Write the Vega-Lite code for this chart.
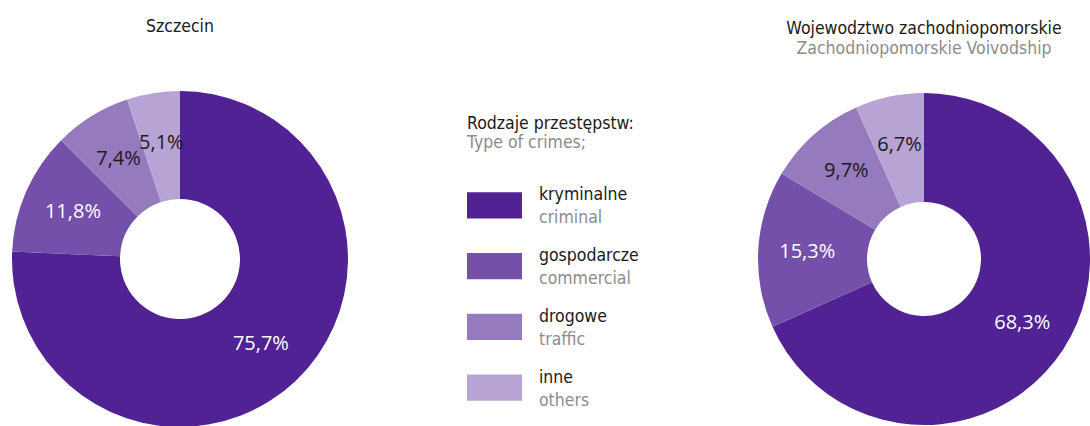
{
  "$schema": "https://vega.github.io/schema/vega-lite/v6.json",
  "background": "white",
  "padding": {"left": 0, "top": 17, "right": 0, "bottom": 0},
  "config": {
    "view": {"stroke": null},
    "locale": {"number": {"decimal": ",", "thousands": " ", "grouping": [3], "currency": ["", "%"]}},
    "title": {
      "font": "DejaVu Sans Condensed",
      "fontSize": 17.5,
      "fontWeight": "normal",
      "color": "#1a1a1a",
      "subtitleFont": "DejaVu Sans Condensed",
      "subtitleFontSize": 17.5,
      "subtitleColor": "#8c8c8c",
      "subtitlePadding": 2.5,
      "frame": "group"
    }
  },
  "datasets": {
    "pie": [
      {"region": "Szczecin", "category": "kryminalne", "k": 1, "value": 75.7},
      {"region": "Szczecin", "category": "gospodarcze", "k": 2, "value": 11.8},
      {"region": "Szczecin", "category": "drogowe", "k": 3, "value": 7.4},
      {"region": "Szczecin", "category": "inne", "k": 4, "value": 5.1},
      {"region": "Województwo zachodniopomorskie", "category": "kryminalne", "k": 1, "value": 68.3},
      {"region": "Województwo zachodniopomorskie", "category": "gospodarcze", "k": 2, "value": 15.3},
      {"region": "Województwo zachodniopomorskie", "category": "drogowe", "k": 3, "value": 9.7},
      {"region": "Województwo zachodniopomorskie", "category": "inne", "k": 4, "value": 6.7}
    ],
    "types": [
      {"category": "kryminalne", "en": "criminal"},
      {"category": "gospodarcze", "en": "commercial"},
      {"category": "drogowe", "en": "traffic"},
      {"category": "inne", "en": "others"}
    ]
  },
  "bounds": "flush",
  "spacing": 107,
  "hconcat": [
    {
      "width": 360,
      "height": 168,
      "title": {"text": "Szczecin", "offset": 56},
      "data": {"name": "pie"},
      "transform": [{"filter": "datum.region == 'Szczecin'"}],
      "encoding": {
        "theta": {"field": "value", "type": "quantitative", "stack": true},
        "order": {"field": "k", "type": "quantitative"},
        "detail": {"field": "category", "type": "nominal"},
        "color": {
          "field": "category", "type": "nominal", "legend": null,
          "scale": {"domain": ["kryminalne", "gospodarcze", "drogowe", "inne"], "range": ["#512293", "#7450ab", "#957bbd", "#b8a4d4"]}
        }
      },
      "layer": [
        {"mark": {"type": "arc", "innerRadius": 60, "outerRadius": 168}},
        {
          "mark": {"type": "text", "radius": 117, "font": "Open Sans", "fontSize": 20, "baseline": "middle", "align": "center"},
          "encoding": {
            "text": {"field": "value", "type": "quantitative", "format": "$.1f"},
            "color": {"condition": {"test": "datum.category == 'drogowe' || datum.category == 'inne'", "value": "#1a1a1a"}, "value": "#ffffff"}
          }
        }
      ]
    },
    {
      "width": 184,
      "height": 243,
      "title": {"text": "Rodzaje przestępstw:", "subtitle": "Type of crimes;", "anchor": "start", "offset": 24, "subtitlePadding": 1.5},
      "data": {"name": "types"},
      "encoding": {
        "y": {"field": "category", "type": "nominal", "axis": null,
          "scale": {"domain": ["kryminalne", "gospodarcze", "drogowe", "inne"], "paddingInner": 0.572, "paddingOuter": 0.286}}
      },
      "layer": [
        {
          "mark": {"type": "rect"},
          "encoding": {
            "x": {"datum": "swatch", "type": "nominal", "axis": null,
              "scale": {"type": "band", "domain": ["swatch", "label"], "paddingInner": 0.236, "paddingOuter": 0.396, "align": 0}},
            "color": {
              "field": "category", "type": "nominal", "legend": null,
              "scale": {"domain": ["kryminalne", "gospodarcze", "drogowe", "inne"], "range": ["#512293", "#7450ab", "#957bbd", "#b8a4d4"]}
            }
          }
        },
        {
          "mark": {"type": "text", "align": "left", "baseline": "alphabetic", "dy": -5, "font": "DejaVu Sans Condensed", "fontSize": 17.5, "color": "#1a1a1a"},
          "encoding": {
            "x": {"datum": "label", "type": "nominal", "bandPosition": 0, "axis": null},
            "text": {"field": "category"}
          }
        },
        {
          "mark": {"type": "text", "align": "left", "baseline": "alphabetic", "dy": 18, "font": "DejaVu Sans Condensed", "fontSize": 17.5, "color": "#8c8c8c"},
          "encoding": {
            "x": {"datum": "label", "type": "nominal", "bandPosition": 0, "axis": null},
            "text": {"field": "en"}
          }
        }
      ]
    },
    {
      "width": 332,
      "height": 168,
      "title": {"text": "Wojewodztwo zachodniopomorskie", "subtitle": "Zachodniopomorskie Voivodship", "offset": 36},
      "data": {"name": "pie"},
      "transform": [{"filter": "datum.region == 'Województwo zachodniopomorskie'"}],
      "encoding": {
        "theta": {"field": "value", "type": "quantitative", "stack": true},
        "order": {"field": "k", "type": "quantitative"},
        "detail": {"field": "category", "type": "nominal"},
        "color": {
          "field": "category", "type": "nominal", "legend": null,
          "scale": {"domain": ["kryminalne", "gospodarcze", "drogowe", "inne"], "range": ["#512293", "#7450ab", "#957bbd", "#b8a4d4"]}
        }
      },
      "layer": [
        {"mark": {"type": "arc", "innerRadius": 57, "outerRadius": 166}},
        {
          "mark": {"type": "text", "radius": 117, "font": "Open Sans", "fontSize": 20, "baseline": "middle", "align": "center"},
          "encoding": {
            "text": {"field": "value", "type": "quantitative", "format": "$.1f"},
            "color": {"condition": {"test": "datum.category == 'drogowe' || datum.category == 'inne'", "value": "#1a1a1a"}, "value": "#ffffff"}
          }
        }
      ]
    }
  ]
}
